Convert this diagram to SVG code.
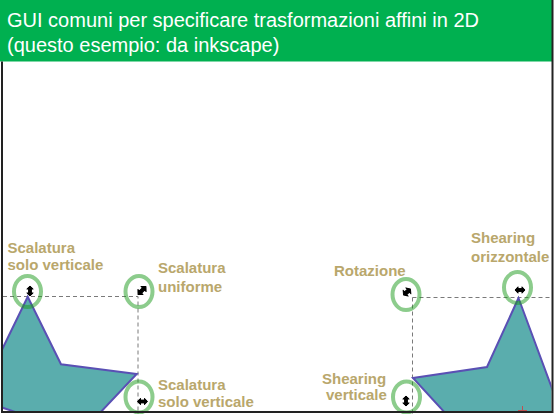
<svg xmlns="http://www.w3.org/2000/svg" width="556" height="414" viewBox="0 0 556 414">
<style>
.title{font-family:"Liberation Sans",Arial,sans-serif;font-size:20px;fill:#ffffff}
.lbl{font-family:"Liberation Sans",Arial,sans-serif;font-size:15px;font-weight:bold;fill:#b9a76c}
.ring{fill:none;stroke:#1a9a1a;stroke-opacity:0.5;stroke-width:4}
.dash{fill:none;stroke:#7a7a7a;stroke-width:1;stroke-dasharray:4 3}
.star{fill:#5aadad;stroke:#5a50b4;stroke-width:2;stroke-linejoin:miter}
.ico{stroke:#000;stroke-width:1;stroke-linejoin:round}
</style>
<defs>
<path id="dbl" class="ico" d="M-5,0 L-2,-3.2 L-2,-1.4 L2,-1.4 L2,-3.2 L5,0 L2,3.2 L2,1.4 L-2,1.4 L-2,3.2 Z" fill="#000"/>
<clipPath id="frame"><rect x="3" y="61" width="548.5" height="350"/></clipPath>
</defs>
<rect x="0" y="0" width="556" height="414" fill="#ffffff"/>
<rect id="header" x="0" y="0" width="552" height="61.5" fill="#00b050"/>
<text class="title" x="7" y="27">GUI comuni per specificare trasformazioni affini in 2D</text>
<text class="title" x="7" y="52">(questo esempio: da inkscape)</text>
<g id="connectors">
<path class="dash" d="M3,296.5 H138 V414"/>
<path class="dash" d="M412.5,297.5 H552 M412.5,297.5 V414"/>
</g>
<g id="stars" clip-path="url(#frame)">
<polygon id="star-left" class="star" points="27.7,296.7 61,364.3 136.7,374 80,434 -20,400 -20,395"/>
<polygon id="star-right" class="star" points="518.5,298 487,367 413,378 470,440 600,440 575,455 560,410"/>
</g>
<g id="scal-vert-top">
<ellipse class="ring" cx="27.5" cy="291.5" rx="13.5" ry="15.5"/>
<use href="#dbl" transform="translate(30,291) rotate(90)"/>
<text class="lbl" x="7.5" y="252.5">Scalatura</text>
<text class="lbl" x="7.5" y="269.5">solo verticale</text>
</g>
<g id="scal-uniforme">
<ellipse class="ring" cx="139" cy="291.5" rx="13.5" ry="15.5"/>
<use href="#dbl" transform="translate(142,290.5) rotate(-45) scale(1.1)"/>
<text class="lbl" x="158" y="273">Scalatura</text>
<text class="lbl" x="158" y="292">uniforme</text>
</g>
<g id="scal-vert-bottom">
<ellipse class="ring" cx="139" cy="397" rx="13.5" ry="15.5"/>
<use href="#dbl" transform="translate(142.5,401.5)"/>
<text class="lbl" x="158" y="390">Scalatura</text>
<text class="lbl" x="158" y="407">solo verticale</text>
</g>
<g id="rotazione">
<text class="lbl" x="334" y="275.5">Rotazione</text>
<ellipse class="ring" cx="406" cy="294.5" rx="13.5" ry="15.5"/>
<use href="#dbl" transform="translate(407,292) rotate(-40) scale(0.9,1.2)"/>
</g>
<g id="shear-orizz">
<ellipse class="ring" cx="517.5" cy="287.5" rx="13.5" ry="15.5"/>
<use href="#dbl" transform="translate(520,290)"/>
<text class="lbl" x="471" y="243">Shearing</text>
<text class="lbl" x="471" y="262">orizzontale</text>
</g>
<g id="shear-vert">
<ellipse class="ring" cx="406.5" cy="397" rx="13.5" ry="15.5"/>
<use href="#dbl" transform="translate(406,401) rotate(90)"/>
<text class="lbl" x="322" y="384">Shearing</text>
<text class="lbl" x="326" y="400">verticale</text>
</g>
<g id="marker">
<path d="M522.5,406 V411 M518,410.5 H527" stroke="#c05050" stroke-width="1" fill="none"/>
</g>
<g id="border" fill="none" stroke="#222" stroke-width="2">
<path d="M2,61.5 V412 H552.5 V0"/>
</g>
</svg>
